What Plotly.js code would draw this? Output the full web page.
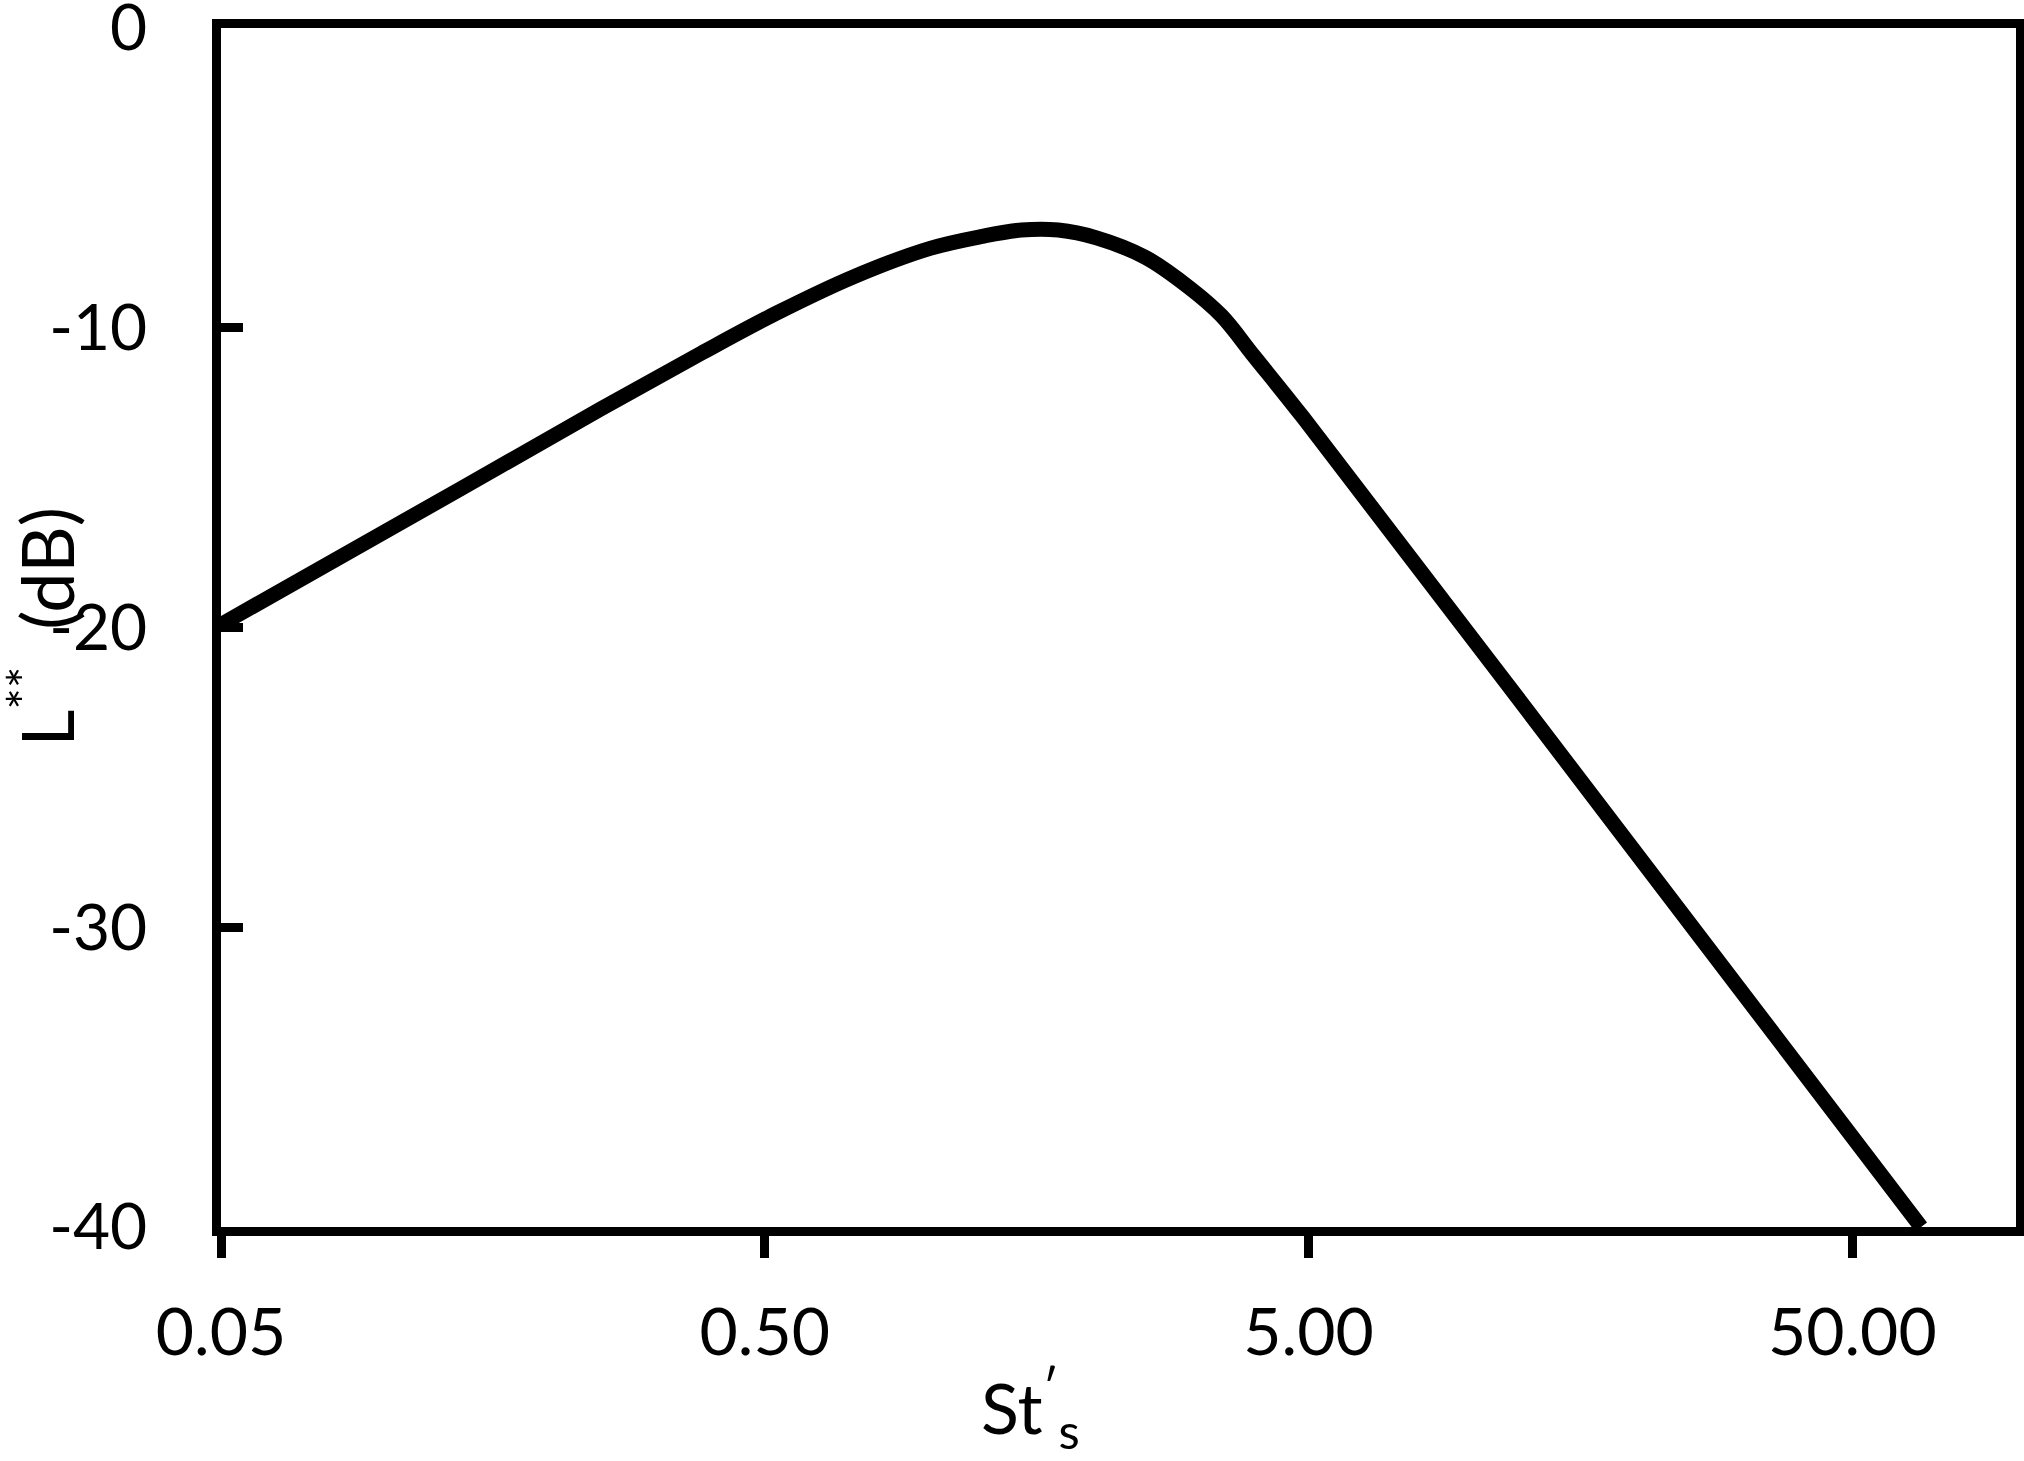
<!DOCTYPE html>
<html>
<head>
<meta charset="utf-8">
<script src="https://cdn.plot.ly/plotly-3.0.1.min.js"></script>
<style>
  html, body { margin: 0; padding: 0; background: #fff; }
  #chart { width: 2024px; height: 1461px; }
</style>
</head>
<body>
<div id="chart"></div>
<script>
// Strouhal number St's (log axis) and level L** in dB
var stValues = [0.05, 0.138, 0.25, 0.382, 0.527, 0.728, 1.007, 1.256, 1.482, 1.733, 2.037, 2.506, 3.013, 3.46, 3.97, 4.89, 17.6, 66.9];
var levelValues = [-19.9, -15.37, -12.7, -10.85, -9.5, -8.3, -7.35, -6.95, -6.74, -6.74, -7.0, -7.65, -8.65, -9.6, -10.95, -13.0, -26.2, -40];

var xTickVals = [0.05, 0.5, 5, 50];
var xTickText = ['0.05', '0.50', '5.00', '50.00'];
var yTickVals = [0, -10, -20, -30, -40];
var yTickText = ['0', '-10', '-20', '-30', '-40'];

var fontFam = 'Lato, "Open Sans", sans-serif';

var trace = {
  x: stValues,
  y: levelValues,
  mode: 'lines',
  line: { color: '#000', width: 15, shape: 'spline', smoothing: 1 },
  hoverinfo: 'skip',
  showlegend: false
};

var layout = {
  width: 2024,
  height: 1461,
  paper_bgcolor: '#fff',
  plot_bgcolor: '#fff',
  margin: { l: 221, r: 8, t: 28, b: 234 },
  font: { family: fontFam, color: '#000', size: 64 },
  xaxis: {
    type: 'log',
    range: [Math.log10(0.05), Math.log10(100)],
    tickmode: 'array',
    tickvals: xTickVals,
    ticktext: xTickText,
    ticks: 'outside',
    ticklen: 22,
    tickwidth: 9,
    tickcolor: '#000',
    ticklabelstandoff: 18,
    ticklabeloverflow: 'allow',
    showline: true,
    linecolor: '#000',
    linewidth: 9,
    mirror: true,
    showgrid: false,
    zeroline: false,
    tickfont: { family: fontFam, size: 66, color: '#000' }
  },
  yaxis: {
    range: [-40, 0.001],
    tickmode: 'array',
    tickvals: yTickVals,
    ticktext: yTickText,
    ticks: 'inside',
    ticklen: 22,
    tickwidth: 9,
    tickcolor: '#000',
    ticklabelstandoff: 52,
    ticklabeloverflow: 'allow',
    showline: true,
    linecolor: '#000',
    linewidth: 9,
    mirror: true,
    showgrid: false,
    zeroline: false,
    tickfont: { family: fontFam, size: 64, color: '#000' }
  },
  annotations: [
    {
      text: 'St<sup>′</sup><sub>s</sub>',
      xref: 'paper', yref: 'paper',
      x: 0.4507, y: 0,
      xanchor: 'center', yanchor: 'top',
      yshift: -128,
      showarrow: false,
      font: { family: fontFam, size: 70, color: '#000' }
    },
    {
      text: 'L<sup>**</sup>\u00a0\u00a0(dB)',
      xref: 'paper', yref: 'paper',
      x: 0, y: 0.5,
      xanchor: 'center', yanchor: 'middle',
      xshift: -180,
      textangle: -90,
      showarrow: false,
      font: { family: fontFam, size: 72, color: '#000' }
    }
  ]
};

Plotly.newPlot('chart', [trace], layout, { displayModeBar: false, staticPlot: true });
</script>
</body>
</html>
